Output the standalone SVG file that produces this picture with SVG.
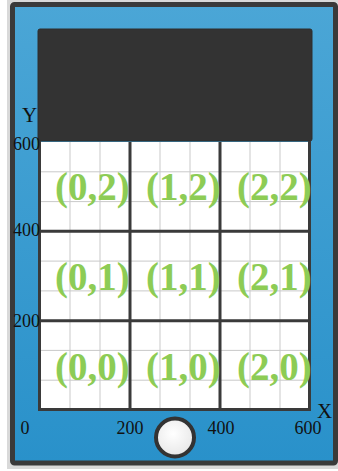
<svg xmlns="http://www.w3.org/2000/svg" width="338" height="471" viewBox="0 0 338 471">
  <defs>
    <linearGradient id="blue" x1="0" y1="0" x2="0" y2="1">
      <stop offset="0" stop-color="#4ba6d6"/>
      <stop offset="1" stop-color="#2991ca"/>
    </linearGradient>
    <radialGradient id="btn" cx="0.45" cy="0.4" r="0.65">
      <stop offset="0" stop-color="#ffffff"/>
      <stop offset="1" stop-color="#e6e6e6"/>
    </radialGradient>
    <style>
      .thin { stroke: #c9c9c9; stroke-width: 1; fill: none; }
      .thick { stroke: #3a3a3a; stroke-width: 3; fill: none; }
      .axis { font-family: "Liberation Serif", "Times New Roman", serif; font-size: 18px; fill: #111; }
      .axname { font-family: "Liberation Serif", "Times New Roman", serif; font-size: 21px; fill: #111; }
      .cell { font-family: "Liberation Serif", "Times New Roman", serif; font-size: 39px; font-weight: bold; fill: #8dcc55; }
    </style>
  </defs>
  <rect x="0" y="0" width="338" height="471" fill="#ffffff"/>
  <rect x="7" y="0" width="331" height="469" fill="#d9d9d9"/>
  <g id="frame">
    <rect x="12.5" y="4.5" width="323" height="458.5" rx="2" fill="url(#blue)" stroke="#3a3a3a" stroke-width="5"/>
  </g>
  <g id="screen">
    <rect x="38" y="29" width="274" height="112" rx="2" fill="#333333" stroke="#2e2e2e" stroke-width="1"/>
  </g>
  <g id="grid">
    <rect x="40" y="142" width="270" height="268" fill="#ffffff"/>
    <path class="thin" d="M70 142V410M100 142V410M160 142V410M190 142V410M250 142V410M280 142V410M40 171.8H310M40 201.6H310M40 261.1H310M40 290.9H310M40 350.4H310M40 380.2H310"/>
    <path class="thick" d="M130 142V410M220 142V410M40 231.3H310M40 320.7H310"/>
    <path class="thick" d="M39.5 141V409.5H309.5V141"/>
  </g>
  <g id="axes">
    <text class="axname" x="22" y="122">Y</text>
    <text class="axname" x="317" y="418">X</text>
    <text class="axis" x="40" y="150" text-anchor="end">600</text>
    <text class="axis" x="40" y="236" text-anchor="end">400</text>
    <text class="axis" x="40" y="327" text-anchor="end">200</text>
    <text class="axis" x="25" y="434" text-anchor="middle">0</text>
    <text class="axis" x="130" y="434" text-anchor="middle">200</text>
    <text class="axis" x="221" y="434" text-anchor="middle">400</text>
    <text class="axis" x="308" y="434" text-anchor="middle">600</text>
  </g>
  <g id="cell-0-2"><text class="cell" x="55" y="200">(0,2)</text></g>
  <g id="cell-1-2"><text class="cell" x="146" y="200">(1,2)</text></g>
  <g id="cell-2-2"><text class="cell" x="237" y="200">(2,2)</text></g>
  <g id="cell-0-1"><text class="cell" x="55" y="290">(0,1)</text></g>
  <g id="cell-1-1"><text class="cell" x="146" y="290">(1,1)</text></g>
  <g id="cell-2-1"><text class="cell" x="237" y="290">(2,1)</text></g>
  <g id="cell-0-0"><text class="cell" x="55" y="380">(0,0)</text></g>
  <g id="cell-1-0"><text class="cell" x="146" y="380">(1,0)</text></g>
  <g id="cell-2-0"><text class="cell" x="237" y="380">(2,0)</text></g>
  <g id="button">
    <circle cx="175" cy="437.5" r="19" fill="url(#btn)" stroke="#333333" stroke-width="4"/>
  </g>
  <g id="connectors"/>
</svg>
